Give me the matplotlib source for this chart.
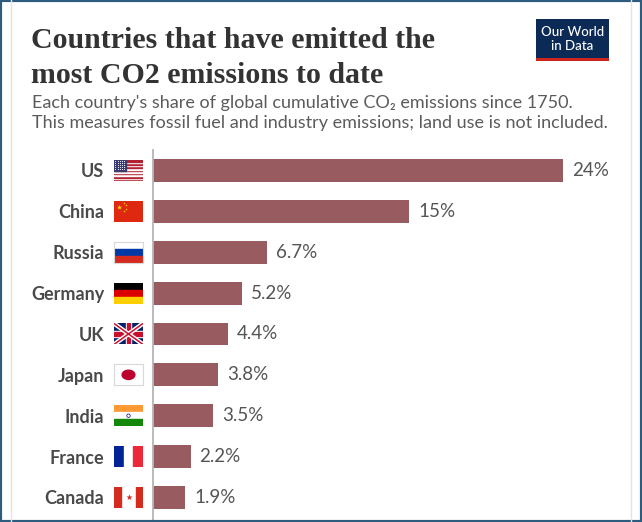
import matplotlib
matplotlib.use("Agg")
import matplotlib.pyplot as plt
from matplotlib.patches import Rectangle, Circle
from matplotlib.lines import Line2D

countries = ["US", "China", "Russia", "Germany", "UK", "Japan", "India", "France", "Canada"]
shares = [24, 15, 6.7, 5.2, 4.4, 3.8, 3.5, 2.2, 1.9]
share_labels = ["24%", "15%", "6.7%", "5.2%", "4.4%", "3.8%", "3.5%", "2.2%", "1.9%"]

title_lines = ["Countries that have emitted the", "most CO2 emissions to date"]
subtitle_1 = "Each country's share of global cumulative CO\u2082 emissions since 1750."
subtitle_2 = "This measures fossil fuel and industry emissions; land use is not included."

BAR_COLOR = "#985b5f"
SANS = ["Lato", "DejaVu Sans"]

W, H = 642, 522
fig = plt.figure(figsize=(W / 100, H / 100), dpi=100)
fig.patch.set_facecolor("white")


def px(x, y):
    # pixel position (from top-left) -> figure fraction
    return x / W, 1 - y / H


# card borders
for xx in (11, 631):
    fig.add_artist(Line2D([xx / W, xx / W], [0, 1], color="#e3e3e3", lw=1, transform=fig.transFigure))
fig.add_artist(Rectangle((0, 0), 1, 1, transform=fig.transFigure, fill=False,
                         edgecolor="#2e5c7e", lw=3))

# title and subtitle
for line, base in zip(title_lines, (48, 83)):
    fig.text(*px(31, base), line, fontsize=21.5, fontweight="bold", family="Liberation Serif",
             color="#333333", va="baseline", ha="left")
fig.text(*px(32, 103), subtitle_1, fontsize=13, family=SANS, color="#5b5b5b", va="center")
fig.text(*px(32, 123), subtitle_2, fontsize=13, family=SANS, color="#5b5b5b", va="center")

# logo
lx, ly = px(536, 61)
fig.add_artist(Rectangle((lx, ly), 73 / W, 42 / H, transform=fig.transFigure,
                         facecolor="#0b2a55", edgecolor="none"))
fig.add_artist(Rectangle((lx, ly), 73 / W, 3.5 / H, transform=fig.transFigure,
                         facecolor="#ce261e", edgecolor="none"))
fig.text(*px(572.5, 32), "Our World", fontsize=9.5, family=SANS, color="white",
         ha="center", va="center", fontweight="medium")
fig.text(*px(572.5, 46), "in Data", fontsize=9.5, family=SANS, color="white",
         ha="center", va="center", fontweight="medium")

# bar chart
ax = fig.add_axes([153 / W, 0, 467 / W, 372 / H])
y = list(range(len(countries)))
ax.barh(y, shares, height=0.56, color=BAR_COLOR)
ax.set_xlim(0, 467 / 17.08)
ax.set_ylim(8.6, -0.5)
for s in ("top", "right", "bottom"):
    ax.spines[s].set_visible(False)
ax.spines["left"].set_color("#b5b5b5")
ax.spines["left"].set_linewidth(1.3)
ax.set_xticks([])
ax.set_yticks(y)
ax.set_yticklabels(countries, fontsize=13, fontweight="bold", family=SANS, color="#4a4a4a")
ax.tick_params(axis="y", length=0, pad=35)
ax.patch.set_alpha(0)

for yi, v, lab in zip(y, shares, share_labels):
    ax.annotate(lab, (v, yi), xytext=(6.5, 0), textcoords="offset points", va="center",
                ha="left", fontsize=13.5, family=SANS, color="#555555")


# flags
def flag_us(a):
    for k in range(13):
        a.add_patch(Rectangle((0, k / 13), 1, 1 / 13, color="#b22234" if k % 2 == 0 else "white"))
    a.add_patch(Rectangle((0, 6 / 13), 0.4, 7 / 13, color="#3c3b6e"))
    xs = [0.05 + 0.075 * i for i in range(5)]
    ys = [0.55 + 0.1 * j for j in range(5)]
    a.scatter([xx for xx in xs for yy in ys], [yy for xx in xs for yy in ys], s=0.4, color="white", lw=0)


def flag_china(a):
    a.add_patch(Rectangle((0, 0), 1, 1, color="#de2910"))
    a.scatter([0.17], [0.72], marker="*", s=14, color="#ffde00", lw=0)
    a.scatter([0.33, 0.4, 0.4, 0.33], [0.9, 0.78, 0.62, 0.5], marker="*", s=3, color="#ffde00", lw=0)


def flag_hstripes(colors):
    def f(a):
        n = len(colors)
        for k, c in enumerate(colors):
            a.add_patch(Rectangle((0, 1 - (k + 1) / n), 1, 1 / n, color=c))
    return f


def flag_uk(a):
    a.add_patch(Rectangle((0, 0), 1, 1, color="#012169"))
    a.plot([0, 1], [0, 1], color="white", lw=3.2, solid_capstyle="butt")
    a.plot([0, 1], [1, 0], color="white", lw=3.2, solid_capstyle="butt")
    a.plot([0, 1], [0, 1], color="#c8102e", lw=1.1, solid_capstyle="butt")
    a.plot([0, 1], [1, 0], color="#c8102e", lw=1.1, solid_capstyle="butt")
    a.add_patch(Rectangle((0.41, 0), 0.18, 1, color="white"))
    a.add_patch(Rectangle((0, 0.36), 1, 0.28, color="white"))
    a.add_patch(Rectangle((0.45, 0), 0.1, 1, color="#c8102e"))
    a.add_patch(Rectangle((0, 0.42), 1, 0.16, color="#c8102e"))


def flag_japan(a):
    a.add_patch(Rectangle((0, 0), 1, 1, color="white"))
    a.add_patch(Circle((0.5, 0.5), 0.22, color="#bc002d", transform=a.transAxes))


def flag_india(a):
    flag_hstripes(["#ff9933", "white", "#138808"])(a)
    a.scatter([0.5], [0.5], s=6, facecolor="none", edgecolor="#000080", lw=0.5)


def flag_france(a):
    for k, c in enumerate(["#002395", "white", "#ed2939"]):
        a.add_patch(Rectangle((k / 3, 0), 1 / 3, 1, color=c))


def flag_canada(a):
    a.add_patch(Rectangle((0, 0), 1, 1, color="white"))
    a.add_patch(Rectangle((0, 0), 0.25, 1, color="#d52b1e"))
    a.add_patch(Rectangle((0.75, 0), 0.25, 1, color="#d52b1e"))
    a.scatter([0.5], [0.52], marker="*", s=22, color="#d52b1e", lw=0)


flag_funcs = {
    "US": flag_us, "China": flag_china, "Russia": flag_hstripes(["white", "#0039a6", "#d52b1e"]),
    "Germany": flag_hstripes(["black", "#dd0000", "#ffce00"]), "UK": flag_uk,
    "Japan": flag_japan, "India": flag_india, "France": flag_france, "Canada": flag_canada,
}

fig.canvas.draw()
inv = fig.transFigure.inverted()
for yi, name in zip(y, countries):
    cx, cy = inv.transform(ax.transData.transform((0, yi)))
    fw, fh = 29 / W, 21 / H
    fa = fig.add_axes([cx - 39 / W, cy - fh / 2, fw, fh])
    fa.set_xlim(0, 1)
    fa.set_ylim(0, 1)
    fa.set_xticks([])
    fa.set_yticks([])
    flag_funcs[name](fa)
    for s in fa.spines.values():
        s.set_visible(name in ("Japan", "Russia"))
        s.set_color("#d8d8d8")
        s.set_linewidth(0.8)

fig.savefig("out.png", dpi=100)
